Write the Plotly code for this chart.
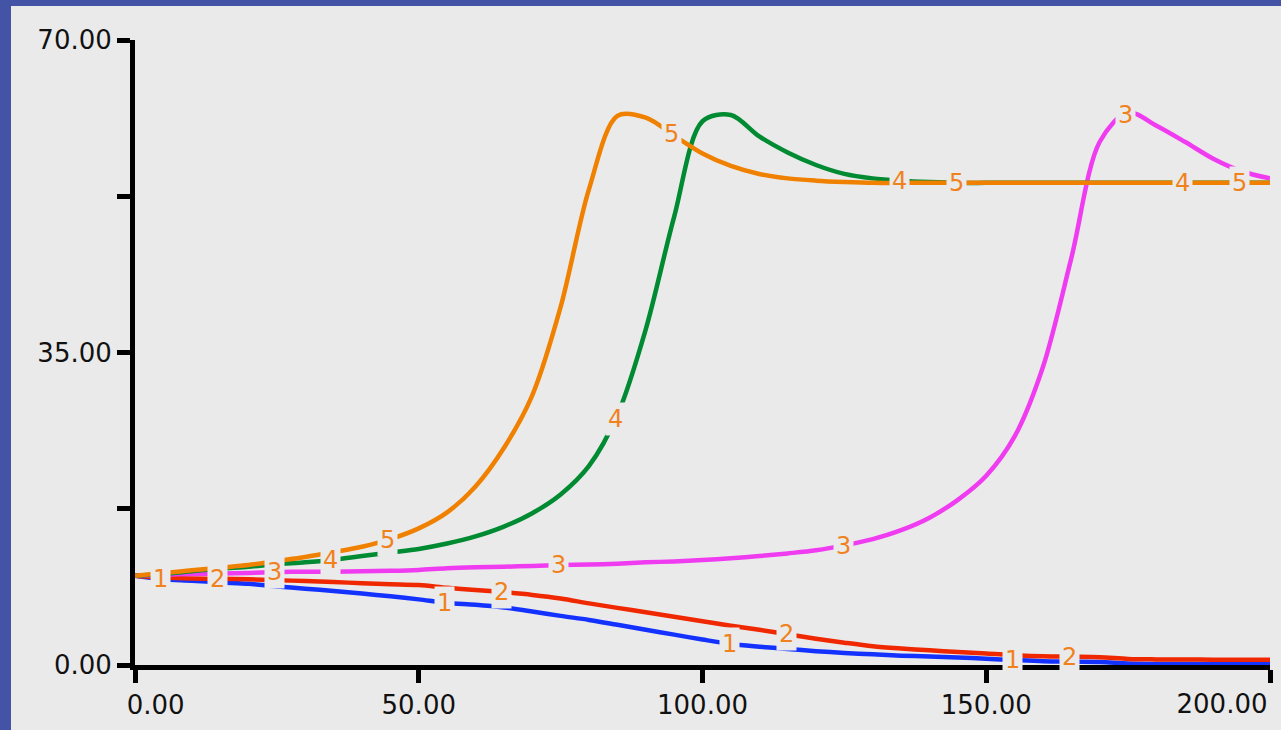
import numpy as np
import plotly.graph_objects as go

# ---- data ----
time = list(range(0, 201, 5))

series_1 = [10, 9.6, 9.45, 9.25, 9.1, 8.8, 8.55, 8.3, 8.0, 7.7,
            7.35, 6.95, 6.75, 6.45, 6.0, 5.5, 5.05, 4.5, 3.95, 3.4, 2.85,
            2.35, 2.05, 1.8, 1.55, 1.35, 1.2, 1.05, 0.95, 0.85, 0.7,
            0.55, 0.42, 0.37, 0.33, 0.18, 0.12, 0.1, 0.1, 0.1, 0.1]
series_2 = [10, 9.8, 9.7, 9.65, 9.6, 9.5, 9.4, 9.3, 9.15, 9.05,
            8.95, 8.65, 8.4, 8.15, 7.85, 7.45, 6.9, 6.4, 5.9, 5.4, 4.9,
            4.4, 3.95, 3.45, 2.95, 2.5, 2.1, 1.85, 1.65, 1.45, 1.3,
            1.1, 0.97, 0.93, 0.88, 0.68, 0.63, 0.62, 0.6, 0.6, 0.6]
series_3 = [10, 10.1, 10.2, 10.25, 10.3, 10.4, 10.45, 10.45, 10.5, 10.55,
            10.65, 10.85, 10.95, 11.0, 11.1, 11.2, 11.25, 11.35, 11.5, 11.6, 11.75,
            11.95, 12.2, 12.5, 12.85, 13.4, 14.1, 15.1, 16.5, 18.5, 21.2,
            25.6, 33.4, 45.6, 58.6, 61.9, 60.4, 58.6, 56.7, 55.3, 54.5]
series_4 = [10, 10.2, 10.5, 10.8, 11.0, 11.3, 11.5, 11.8, 12.2, 12.6,
            13.0, 13.6, 14.4, 15.5, 17.0, 19.1, 22.3, 28.0, 37.6, 50.2, 60.9,
            61.6, 59.2, 57.4, 56.0, 55.0, 54.5, 54.25, 54.1, 54.0, 54.0,
            54.0, 54.0, 54.0, 54.0, 54.0, 54.0, 54.0, 54.0, 54.0, 54.0]
series_5 = [10, 10.3, 10.6, 10.9, 11.2, 11.65, 12.1, 12.65, 13.25, 14.1,
            15.3, 17.1, 20.0, 24.3, 30.2, 40.1, 53.3, 61.5, 61.3, 59.3, 57.3,
            55.9, 55.0, 54.5, 54.25, 54.1, 54.0, 54.0, 54.0, 54.0, 54.0,
            54.0, 54.0, 54.0, 54.0, 54.0, 54.0, 54.0, 54.0, 54.0, 54.0]

series_names = ["1", "2", "3", "4", "5"]
label_times_1 = [4.5, 54.6, 104.8, 154.6]
label_step = 10  # each following series has its labels 10 time units later

x_tickvals = [0, 50, 100, 150, 200]
x_ticktext = ["\u00a0" * 5 + "0.00", "50.00", "100.00", "150.00", ""]
x_last_tick = [200]
x_last_text = ["200.00"]
y_tickvals = [0, 17.5, 35, 52.5, 70]
y_ticktext = ["0.00", "", "35.00", "", "70.00"]

# ---- styling ----
colors = ["#1432FF", "#F02800", "#F03CF0", "#008A32", "#F08000"]
label_color = "#F0821E"
bg = "#EAEAEA"
frame = "#4353A5"
font_family = "DejaVu Sans"

W, H = 1281, 730
L, R, T, B = 135, 11, 40, 65

fig = go.Figure()
all_series = [series_1, series_2, series_3, series_4, series_5]
for name, vals, col in zip(series_names, all_series, colors):
    fig.add_trace(go.Scatter(
        x=time, y=vals, mode="lines", name=name,
        line=dict(color=col, width=4.5, shape="spline", smoothing=0.9),
        hoverinfo="skip", showlegend=False))

# invisible trace so the overlay axis carrying the last tick label is drawn
fig.add_trace(go.Scatter(x=[None], y=[None], xaxis="x2", yaxis="y",
                         mode="lines", hoverinfo="skip", showlegend=False))

annotations = []
for k, (name, vals) in enumerate(zip(series_names, all_series)):
    for t0 in label_times_1:
        t = t0 + label_step * k
        yv = float(np.interp(t, time, vals))
        annotations.append(dict(
            x=t, y=yv, xref="x", yref="y", text=name, showarrow=False,
            xanchor="center", yanchor="middle",
            font=dict(family=font_family, size=24, color=label_color),
            bgcolor=bg, borderpad=2))

pw = W - L - R
ph = H - T - B
fig.add_shape(type="rect", xref="paper", yref="paper",
              x0=(11 - L) / pw, x1=(W - L) / pw,
              y0=-B / ph, y1=(ph + T - 6) / ph,
              fillcolor=bg, line=dict(width=0), layer="below")

tickfont = dict(family=font_family, size=26, color="#111111")
axis_common = dict(
    showgrid=False, zeroline=False, showline=True, linecolor="black",
    linewidth=5, ticks="outside", ticklen=13, tickwidth=5, tickcolor="black",
    tickfont=tickfont, ticklabeloverflow="allow", automargin=False,
    fixedrange=True)

fig.update_layout(
    width=W, height=H,
    margin=dict(l=L, r=R, t=T, b=B),
    paper_bgcolor=frame, plot_bgcolor=bg,
    xaxis=dict(range=[0, 200], tickmode="array", tickvals=x_tickvals,
               ticktext=x_ticktext, **axis_common),
    xaxis2=dict(range=[0, 200], overlaying="x", side="bottom",
                tickmode="array", tickvals=x_last_tick, ticktext=x_last_text,
                showgrid=False, zeroline=False, showline=False,
                ticks="outside", ticklen=13, tickwidth=5,
                tickcolor="rgba(0,0,0,0)", tickfont=tickfont,
                ticklabelposition="outside left", ticklabelstandoff=16,
                ticklabeloverflow="allow", automargin=False, fixedrange=True),
    yaxis=dict(range=[0, 70], tickmode="array", tickvals=y_tickvals,
               ticktext=y_ticktext, **axis_common),
    annotations=annotations,
    showlegend=False,
)

fig.write_html("out.html", config={"displayModeBar": False},
               post_script="document.body.style.margin='0px';")
